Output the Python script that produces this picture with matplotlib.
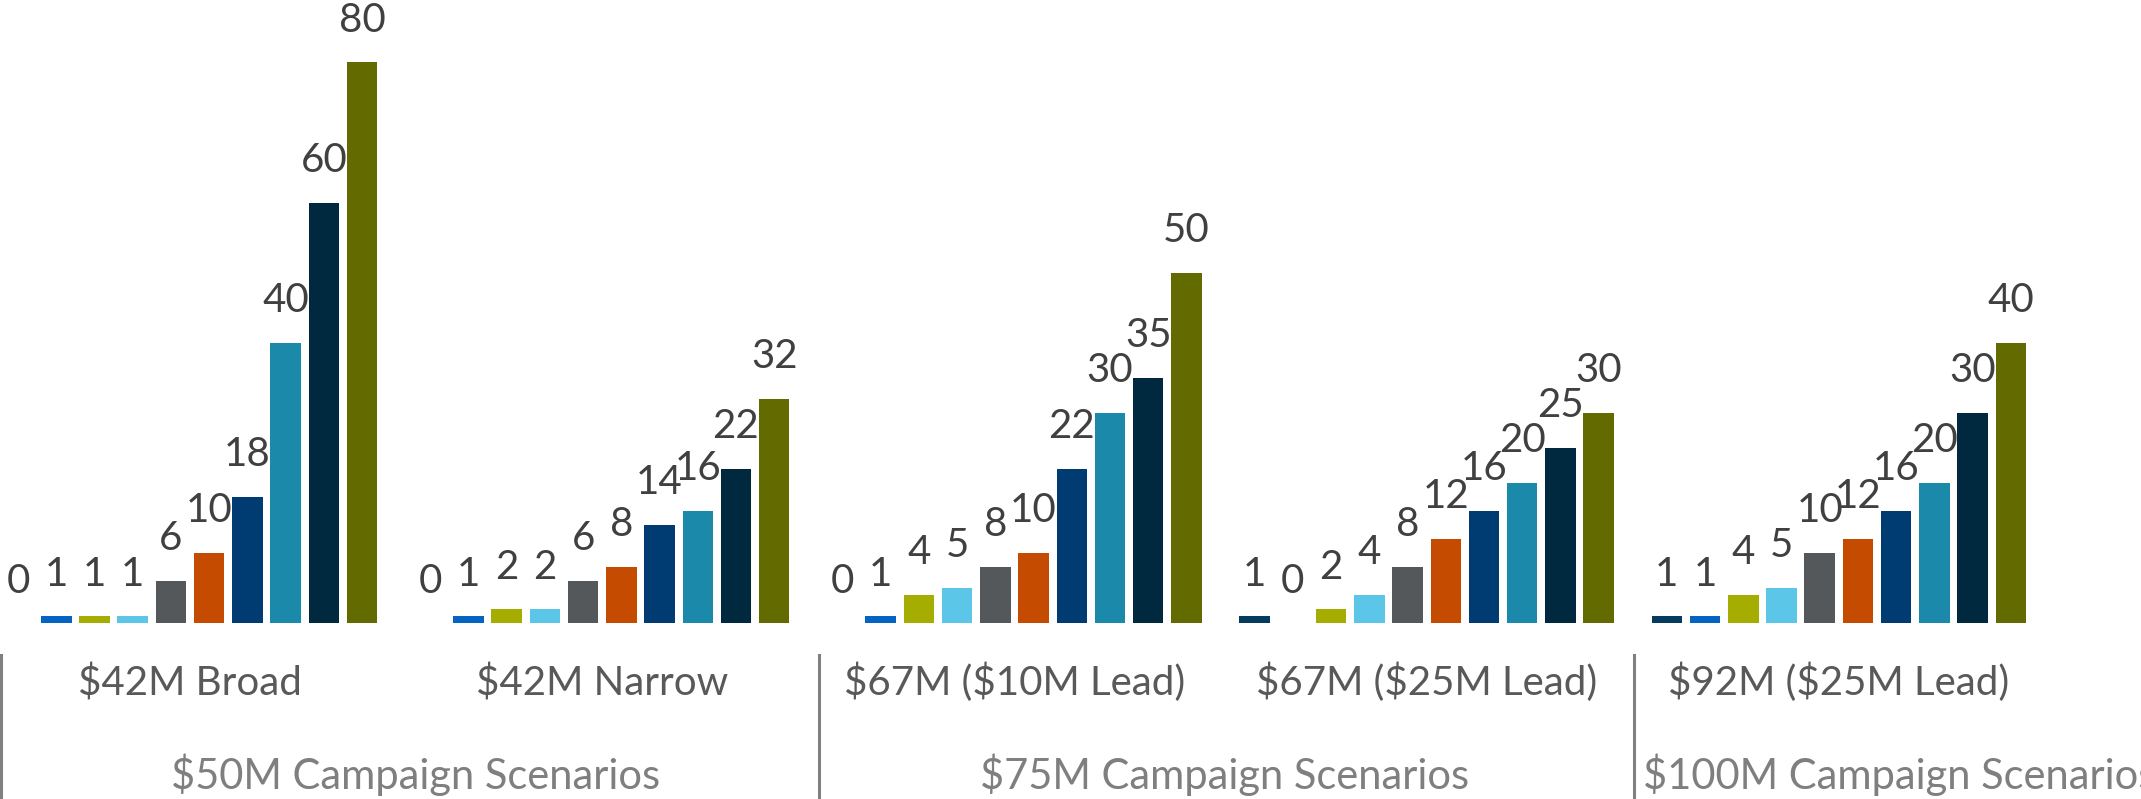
import numpy as np
import matplotlib
matplotlib.use("Agg")
from matplotlib import pyplot as plt
import matplotlib.transforms as mtransforms

plt.rcParams['font.family'] = ['Lato', 'DejaVu Sans']
# dollar signs are plain text here, not math
plt.rcParams['text.parse_math'] = False

# Scenario categories (lower level) and campaign groups (upper level)
scenarios = ["$42M Broad", "$42M Narrow", "$67M ($10M Lead)",
             "$67M ($25M Lead)", "$92M ($25M Lead)"]
campaigns = ["$50M Campaign Scenarios", "$75M Campaign Scenarios",
             "$100M Campaign Scenarios"]

# Ten series per scenario, in draw order
s0 = [0, 0, 0, 1, 1]
s1 = [1, 1, 1, 0, 1]
s2 = [1, 2, 4, 2, 4]
s3 = [1, 2, 5, 4, 5]
s4 = [6, 6, 8, 8, 10]
s5 = [10, 8, 10, 12, 12]
s6 = [18, 14, 22, 16, 16]
s7 = [40, 16, 30, 20, 20]
s8 = [60, 22, 35, 25, 30]
s9 = [80, 32, 50, 30, 40]
series = [s0, s1, s2, s3, s4, s5, s6, s7, s8, s9]

colors = ["#053C5E", "#0563C1", "#A5AE00", "#5BC6E8", "#54585A",
          "#C54B00", "#003C71", "#1A89AA", "#00283F", "#636A00"]

fig = plt.figure(figsize=(21.41, 7.99), dpi=100)
ax = fig.add_axes([0, 0, 1, 1])

x = np.arange(len(scenarios))
slot = 0.0927
bar_width = 0.074

for i, (vals, col) in enumerate(zip(series, colors)):
    pos = x + (i - 4.5) * slot
    ax.bar(pos, vals, width=bar_width, color=col)
    for xp, v in zip(pos, vals):
        ax.annotate(str(v), (xp, v), xytext=(0, 22), textcoords="offset points",
                    ha="center", va="baseline", fontsize=29, color="#404040")

ax.set_xlim(-0.461, 4.733)
ax.set_ylim(-25.1, 88.9)
ax.axis("off")

trans = mtransforms.blended_transform_factory(ax.transData, ax.transAxes)

# scenario labels
for xi, name in zip(x, scenarios):
    ax.text(xi, 0.130, name, transform=trans, ha="center", va="baseline",
            fontsize=29, color="#595959")

# campaign group labels
ax.text(0.546, 0.0125, campaigns[0], transform=trans, ha="center",
        va="baseline", fontsize=30, color="#7F7F7F")
ax.text(2.51, 0.0125, campaigns[1], transform=trans, ha="center",
        va="baseline", fontsize=30, color="#7F7F7F")
ax.text(3.524, 0.0125, campaigns[2], transform=trans, ha="left",
        va="baseline", fontsize=30, color="#7F7F7F")

# group separators
for xs in [-0.458, 1.526, 3.503]:
    ax.plot([xs, xs], [0, 0.18], transform=trans, color="#808080",
            linewidth=2.2, clip_on=False)

fig.savefig("out.png", dpi=100)
